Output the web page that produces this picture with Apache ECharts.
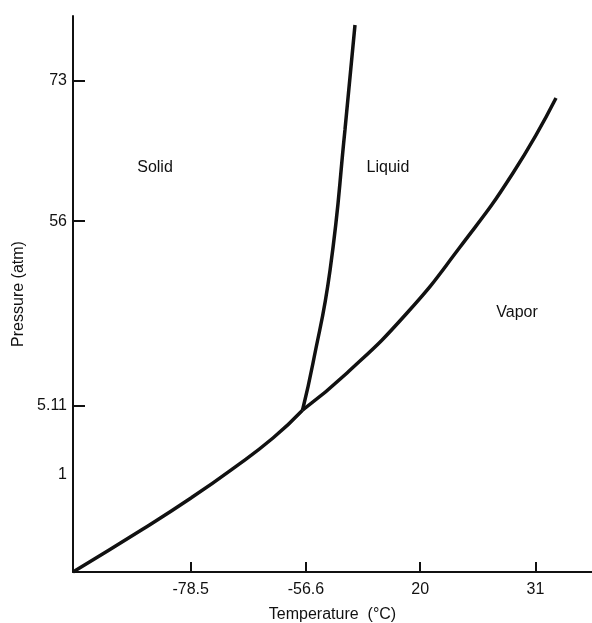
<!DOCTYPE html>
<html>
<head>
    <meta charset="UTF-8">
    <script src="https://cdn.jsdelivr.net/npm/echarts@6/dist/echarts.min.js"></script>
    <title>CO2 phase diagram</title>
    <style>
        html, body { margin: 0; padding: 0; background: #fff; }
        #box { width: 592px; height: 623px; }
    </style>
</head>
<body>
    <div id="box"></div>
    <script>
        // schematic diagram: axes are not to scale, so positions are in diagram units
        // x: one unit per temperature tick, y: 0-100 of the pressure axis height
        var xTickPos = [1.02, 2.02, 3.01, 4.01]
        var xTickLabels = ['-78.5', '-56.6', '20', '31']
        var yTickPos = [17.6, 29.9, 63.1, 88.3]
        var yTickLabels = ['1', '5.11', '56', '73']
        var yTickMarks = [29.9, 63.1, 88.3]   // "1" has no tick mark

        // solid / vapor boundary
        var sublX = [0, 0.607, 1.023, 1.387, 1.734, 1.99]
        var sublY = [0, 7.73, 13.31, 18.60, 24.10, 29.1]
        // solid / liquid boundary
        var meltX = [1.99, 2.081, 2.229, 2.358, 2.445]
        var meltY = [29.1, 37.59, 54.32, 79.50, 98.38]
        // liquid / vapor boundary
        var vapX = [1.99, 2.376, 2.896, 3.356, 3.815, 4.188]
        var vapY = [29.1, 35.79, 46.58, 58.45, 71.76, 85.25]

        var regionNames = ['Solid', 'Liquid', 'Vapor']
        var regionX = [0.711, 2.731, 3.85]
        var regionY = [72.8, 72.8, 46.6]

        function pairs(xs, ys) {
            return xs.map(function (x, i) { return [x, ys[i]] })
        }

        var font = '"Liberation Sans", Arial, sans-serif'
        var ink = '#111'

        var lineStyle = { color: ink, width: 3.5 }

        var mychart = echarts.init(document.getElementById('box'))
        var option = {
            animation: false,
            textStyle: { fontFamily: font },
            grid: { left: 73, right: 0, top: 16, bottom: 51, containLabel: false, outerBoundsMode: 'none' },
            xAxis: {
                type: 'value',
                min: 0,
                max: 4.5,
                name: 'Temperature  (°C)',
                nameLocation: 'middle',
                nameGap: 35,
                nameTextStyle: { color: ink, fontSize: 16, fontFamily: font },
                splitLine: { show: false },
                axisLine: { lineStyle: { color: ink, width: 2 } },
                axisTick: {
                    inside: true, length: 10, customValues: xTickPos,
                    lineStyle: { color: ink, width: 2 }
                },
                axisLabel: {
                    customValues: xTickPos,
                    margin: 10,
                    color: ink, fontSize: 16, fontFamily: font,
                    formatter: function (v) {
                        var i = xTickPos.indexOf(v)
                        return i >= 0 ? xTickLabels[i] : ''
                    }
                }
            },
            yAxis: {
                type: 'value',
                min: 0,
                max: 100,
                name: 'Pressure (atm)',
                nameLocation: 'middle',
                nameRotate: 90,
                nameGap: 45,
                nameTextStyle: { color: ink, fontSize: 16, fontFamily: font },
                splitLine: { show: false },
                axisLine: { show: true, lineStyle: { color: ink, width: 2 } },
                axisTick: {
                    show: true, inside: true, length: 12, customValues: yTickMarks,
                    lineStyle: { color: ink, width: 2 }
                },
                axisLabel: {
                    customValues: yTickPos,
                    margin: 6,
                    color: ink, fontSize: 16, fontFamily: font,
                    formatter: function (v) {
                        var i = yTickPos.indexOf(v)
                        return i >= 0 ? yTickLabels[i] : ''
                    }
                }
            },
            series: [
                {
                    name: 'sublimation', type: 'line', data: pairs(sublX, sublY),
                    smooth: 0.5, symbol: 'none', lineStyle: lineStyle
                },
                {
                    name: 'melting', type: 'line', data: pairs(meltX, meltY),
                    smooth: 0.5, symbol: 'none', lineStyle: lineStyle
                },
                {
                    name: 'vaporization', type: 'line', data: pairs(vapX, vapY),
                    smooth: 0.5, symbol: 'none', lineStyle: lineStyle
                },
                {
                    name: 'regions', type: 'scatter', symbolSize: 0,
                    itemStyle: { opacity: 1 },
                    data: regionNames.map(function (n, i) {
                        return { name: n, value: [regionX[i], regionY[i]] }
                    }),
                    label: {
                        show: true, position: 'inside', formatter: '{b}',
                        color: ink, fontSize: 16, fontFamily: font
                    }
                }
            ]
        }
        mychart.setOption(option)
    </script>
</body>
</html>
